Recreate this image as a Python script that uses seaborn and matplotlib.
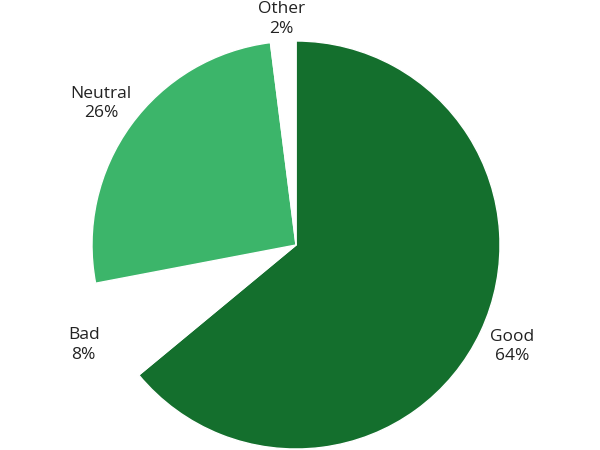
import matplotlib
matplotlib.use('Agg')
import matplotlib.pyplot as plt
import seaborn as sns

categories = ['Good', 'Bad', 'Neutral', 'Other']
shares = [64, 8, 26, 2]
colors = ['#146f2d', '#ffffff', '#3cb56a', '#ffffff']
label_dist = [1.17, 1.15, 1.18, 1.11]

sns.set_theme(style='white')
plt.rcParams['font.family'] = ['Open Sans', 'DejaVu Sans']

fig = plt.figure(figsize=(6, 4.5), dpi=100)
ax = fig.add_axes([0, 0, 1, 1])

labels = [f'{c}\n{s}%' for c, s in zip(categories, shares)]
wedges, texts = ax.pie(shares, labels=labels, colors=colors, startangle=90,
                       counterclock=False, labeldistance=1.0,
                       textprops={'fontsize': 12.5, 'color': '#222222',
                                  'ha': 'center', 'linespacing': 1.3})

# push each label out to its own distance
for t, d in zip(texts, label_dist):
    x, y = t.get_position()
    t.set_position((x * d, y * d))

# keep the pie at 204 px radius, centred where the original sits
ax.set_xlim(-296 / 204, 304 / 204)
ax.set_ylim(-205 / 204, 245 / 204)
ax.set_aspect('equal')
ax.axis('off')

fig.savefig('out.png', dpi=100)
